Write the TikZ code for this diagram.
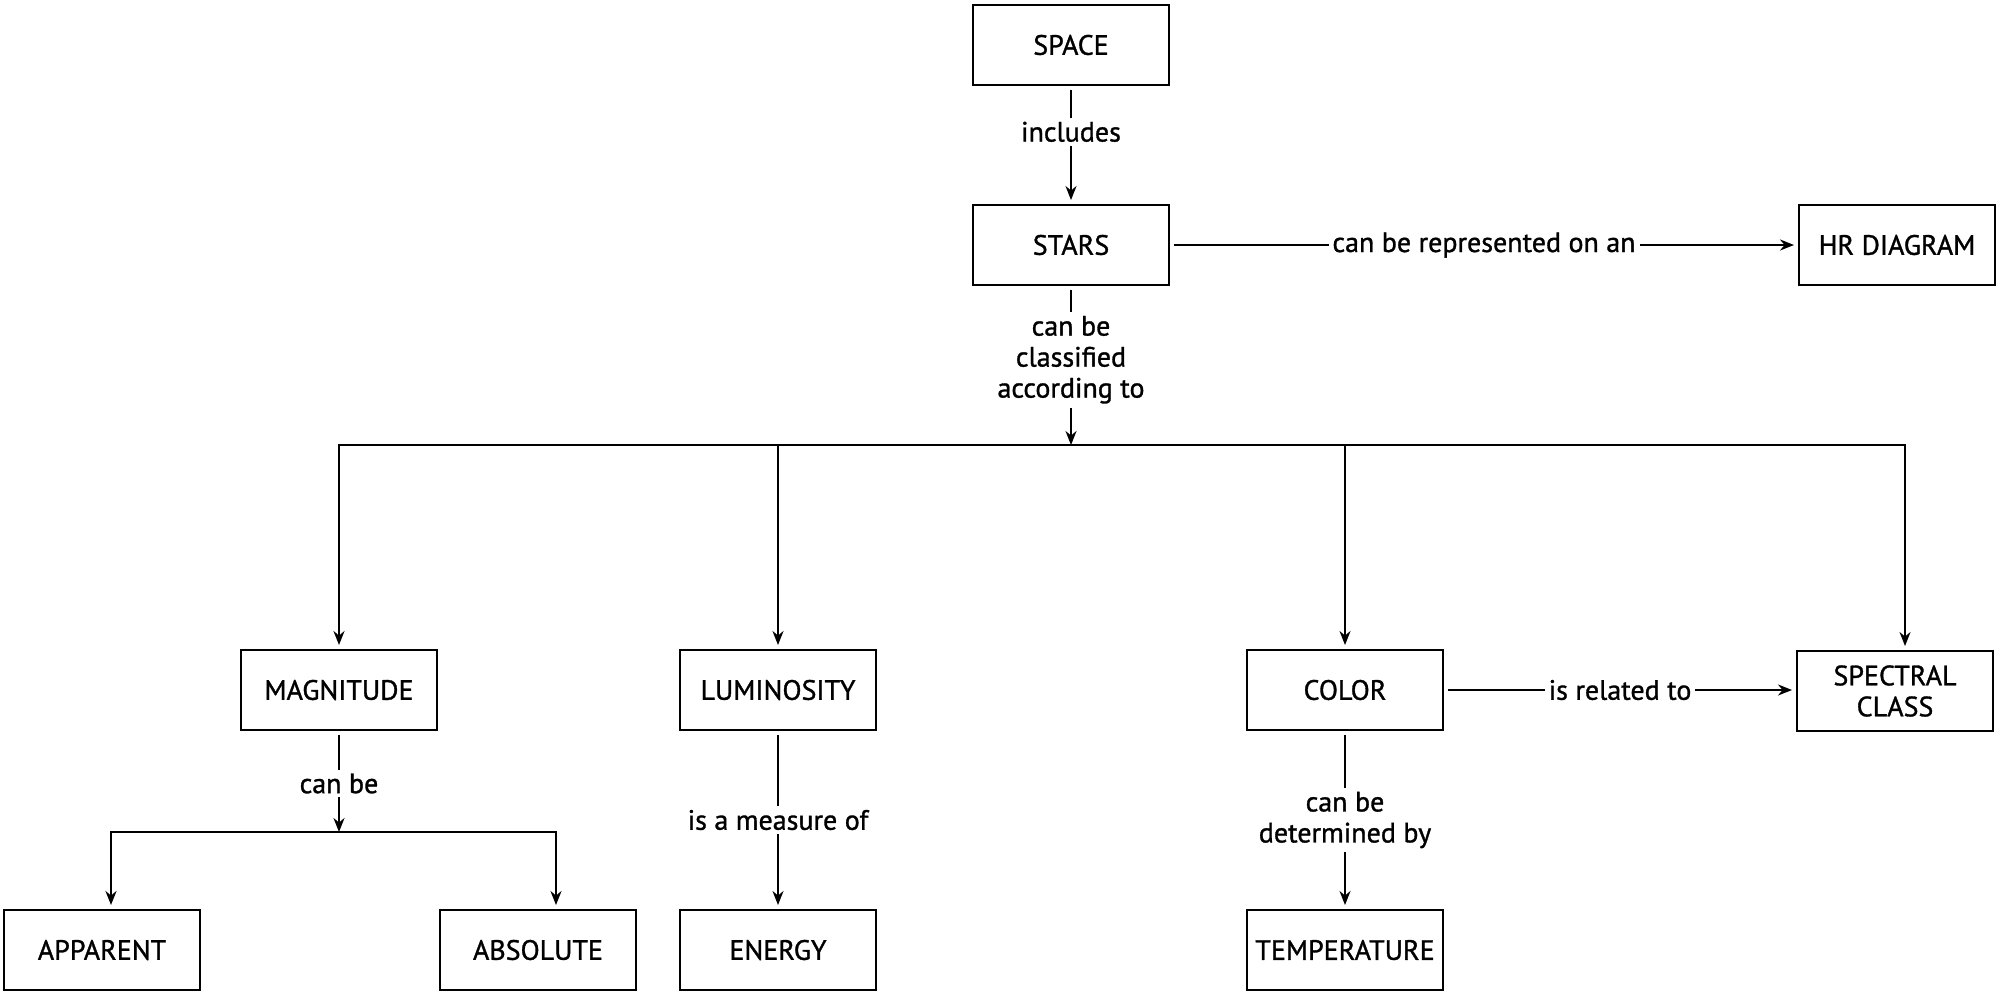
\documentclass[tikz,border=0pt]{standalone}
\usepackage{fontspec}
\setmainfont{PT Sans}[BoldFont={PT Sans},BoldFeatures={FakeBold=1.1}]
\usetikzlibrary{arrows.meta,calc}
\begin{document}
\begin{tikzpicture}[x=0.5pt,y=-0.5pt,
  box/.style={draw,line width=1.1pt,minimum width=98pt,minimum height=40pt,inner sep=2pt,align=center,font=\fontsize{14}{15.5}\selectfont\bfseries,outer sep=2.5pt},
  conn/.style={line width=1pt},
  arr/.style={conn,-{Stealth[length=7pt,width=5.5pt]}},
  lab/.style={fill=white,inner sep=2pt,align=center,font=\fontsize{14}{15.5}\selectfont\bfseries}]
\useasboundingbox (0,0) rectangle (2005,996);
\node[box] (space) at (1071,45) {SPACE};
\node[box] (stars) at (1071,245) {STARS};
\node[box] (hr) at (1897,245) {HR DIAGRAM};
\node[box] (mag) at (339,690) {MAGNITUDE};
\node[box] (lum) at (778,690) {LUMINOSITY};
\node[box] (col) at (1345,690) {COLOR};
\node[box] (spec) at (1895,691) {SPECTRAL\\CLASS};
\node[box] (app) at (102,950) {APPARENT};
\node[box] (abs) at (538,950) {ABSOLUTE};
\node[box] (ene) at (778,950) {ENERGY};
\node[box] (tem) at (1345,950) {TEMPERATURE};
\coordinate (bar) at (1071,445);
\coordinate (mbar) at (339,832);
\draw[arr] (space) -- node[lab,pos=0.38] {includes} (stars);
\draw[arr] (stars) -- node[lab,pos=0.45] {can be\\classified\\according to} (bar);
\draw[arr] (stars) -- node[lab] {can be represented on an} (hr);
\draw[arr] (bar) -| (mag.north);
\draw[arr] (bar) -| (lum.north);
\draw[arr] (bar) -| (col.north);
\draw[arr] (bar) -| ([xshift=5pt]spec.north);
\draw[arr] (col) -- node[lab] {is related to} (spec.west |- col);
\draw[arr] (mag) -- node[lab] {can be} (mbar);
\draw[arr] (mbar) -| ([xshift=4.5pt]app.north);
\draw[arr] (mbar) -| ([xshift=9pt]abs.north);
\draw[arr] (lum) -- node[lab] {is a measure of} (ene);
\draw[arr] (col) -- node[lab] {can be\\determined by} (tem);
\end{tikzpicture}
\end{document}
